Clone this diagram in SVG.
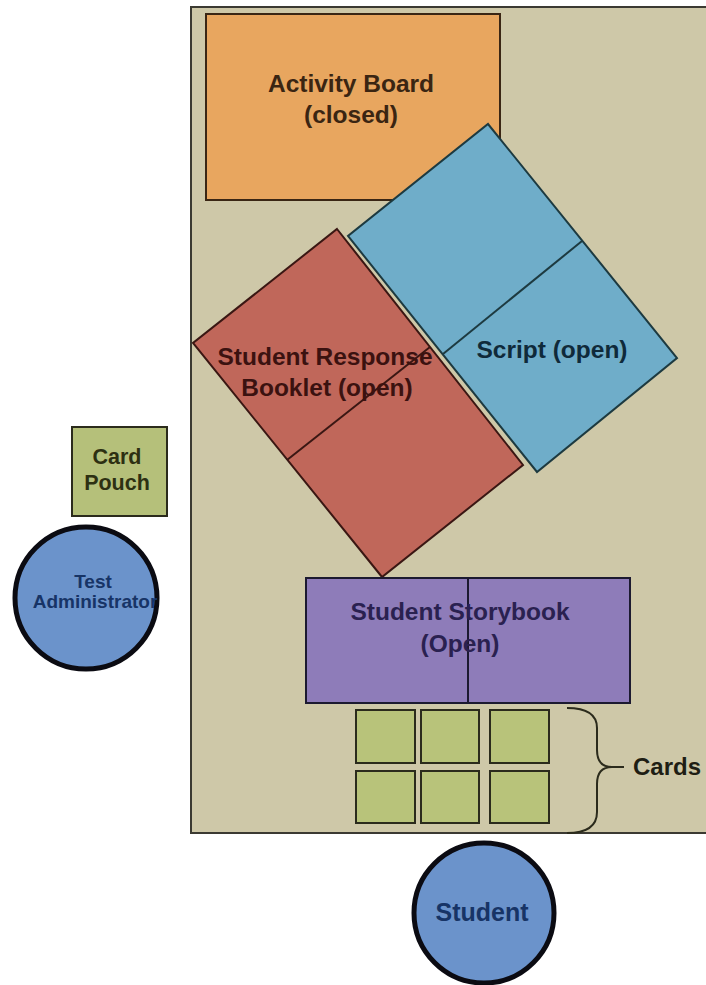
<svg xmlns="http://www.w3.org/2000/svg" width="706" height="985" viewBox="0 0 706 985">
  <style>
    text { font-family: "Liberation Sans", Arial, sans-serif; font-weight: bold; text-anchor: middle; }
    .item { stroke-width: 2; stroke-linejoin: miter; }
    .card { fill: #b8c37a; stroke: #2b2b1c; stroke-width: 2; }
    .person { fill: #6b93cb; stroke: #0b0b12; stroke-width: 5; }
  </style>

  <rect width="706" height="985" fill="#ffffff"/>

  <!-- table surface -->
  <g id="table">
    <rect x="191" y="7" width="530" height="826" fill="#cec8a8" stroke="#3b3a32" stroke-width="2"/>
  </g>

  <g id="activity-board">
    <rect class="item" x="206" y="14" width="294" height="186" fill="#e8a65f" stroke="#3a2614"/>
    <text x="351" y="92" font-size="24.5" fill="#3a2512">Activity Board</text>
    <text x="351" y="123" font-size="24.5" fill="#3a2512">(closed)</text>
  </g>

  <g id="response-booklet">
    <polygon class="item" points="337,229 523,465 382,577 193,343" fill="#c0675a" stroke="#3a1713"/>
    <line x1="430" y1="347" x2="287" y2="460" stroke="#3a1713" stroke-width="2"/>
    <text x="325" y="365" font-size="24.5" fill="#3b1210">Student Response</text>
    <text x="327" y="396" font-size="24.5" fill="#3b1210">Booklet (open)</text>
  </g>

  <g id="script">
    <polygon class="item" points="488,124 677,358 537,472 348,236" fill="#6fadc9" stroke="#1d3a40"/>
    <line x1="582" y1="241" x2="443" y2="354" stroke="#1d3a40" stroke-width="2"/>
    <text x="552" y="358" font-size="24.5" fill="#0f2a3a">Script (open)</text>
  </g>

  <g id="storybook">
    <rect class="item" x="306" y="578" width="324" height="125" fill="#8e7cb9" stroke="#1c1a30"/>
    <line x1="468" y1="578" x2="468" y2="703" stroke="#1c1a30" stroke-width="2"/>
    <text x="460" y="620" font-size="24.5" fill="#2a2150">Student Storybook</text>
    <text x="460" y="652" font-size="24.5" fill="#2a2150">(Open)</text>
  </g>

  <g id="cards">
    <rect class="card" x="356" y="710" width="59" height="53"/>
    <rect class="card" x="421" y="710" width="58" height="53"/>
    <rect class="card" x="490" y="710" width="59" height="53"/>
    <rect class="card" x="356" y="771" width="59" height="52"/>
    <rect class="card" x="421" y="771" width="58" height="52"/>
    <rect class="card" x="490" y="771" width="59" height="52"/>
    <path d="M567,708 Q597,708 597,728 L597,750 Q597,767 612,767 Q597,767 597,784 L597,812 Q597,833 567,833 M612,767 L624,767" fill="none" stroke="#2b2b1c" stroke-width="2"/>
    <text x="667" y="775" font-size="24" fill="#1e1e14">Cards</text>
  </g>

  <g id="card-pouch">
    <rect x="72" y="427" width="95" height="89" fill="#b5c07a" stroke="#2b2b1c" stroke-width="2"/>
    <text x="117" y="464" font-size="21.5" fill="#2d3012">Card</text>
    <text x="117" y="490" font-size="21.5" fill="#2d3012">Pouch</text>
  </g>

  <g id="test-administrator">
    <circle class="person" cx="86" cy="598" r="71"/>
    <text x="93" y="588" font-size="19" fill="#173466">Test</text>
    <text x="95" y="608" font-size="19" fill="#173466">Administrator</text>
  </g>

  <g id="student">
    <circle class="person" cx="484" cy="913" r="70"/>
    <text x="482" y="921" font-size="25" fill="#173466">Student</text>
  </g>
</svg>
